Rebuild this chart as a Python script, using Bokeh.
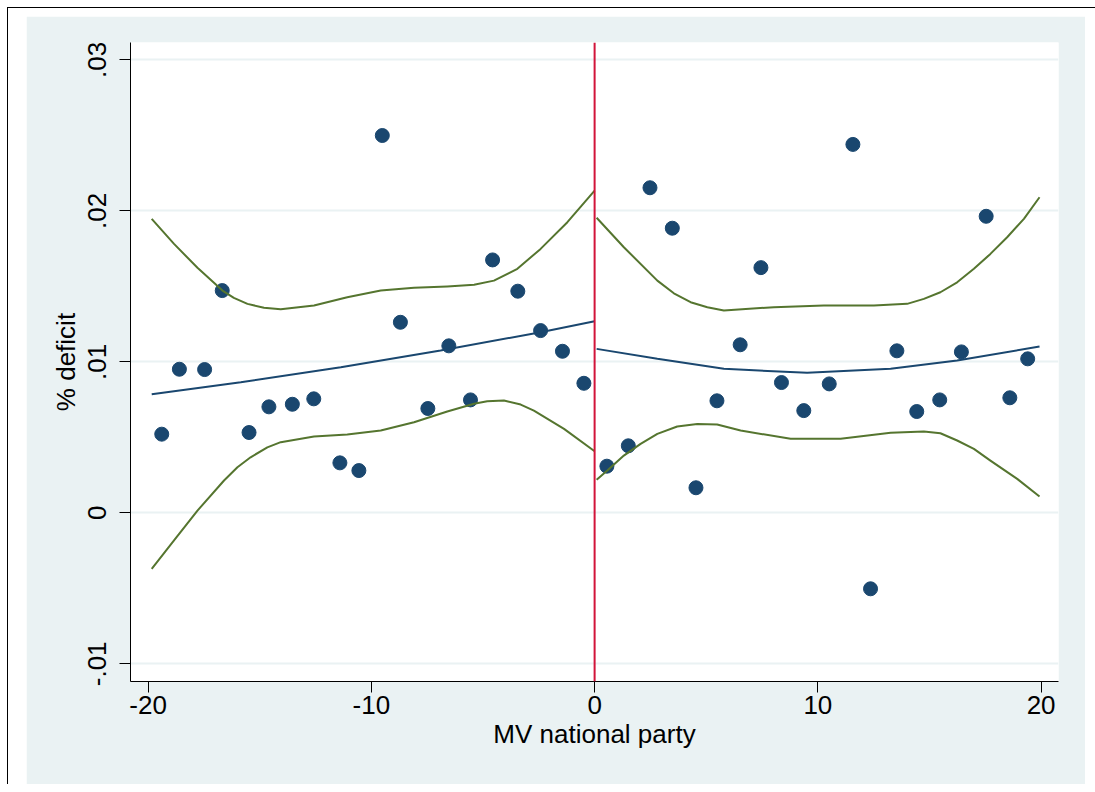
from bokeh.plotting import figure
from bokeh.models import Span
from bokeh.layouts import column
from bokeh.embed import file_html
from bokeh.resources import INLINE

# ---- binned scatter (left / right of cutoff) ----
left_x = [-19.39, -18.6, -17.47, -16.68, -15.48, -14.59, -13.54, -12.58, -11.41, -10.56,
          -9.51, -8.70, -7.47, -6.53, -5.56, -4.57, -3.44, -2.42, -1.44, -0.48]
left_y = [0.00521, 0.00951, 0.00949, 0.01472, 0.00532, 0.00702, 0.00719, 0.00755, 0.00331, 0.00280,
          0.02499, 0.01262, 0.00691, 0.01106, 0.00748, 0.01675, 0.01468, 0.01207, 0.01070, 0.00858]
right_x = [0.55, 1.51, 2.48, 3.48, 4.54, 5.48, 6.52, 7.45, 8.37, 9.37,
           10.51, 11.57, 12.36, 13.54, 14.43, 15.46, 16.43, 17.54, 18.6, 19.4]
right_y = [0.00309, 0.00444, 0.02153, 0.01885, 0.00166, 0.00742, 0.01113, 0.01624, 0.00863, 0.00677,
           0.00854, 0.02440, -0.00503, 0.01073, 0.00671, 0.00748, 0.01066, 0.01964, 0.00762, 0.01020]

# ---- fitted lines ----
fitL_x = [-19.84, -15.85, -11.37, -6.90, -2.42, 0.0]
fitL_y = [0.00785, 0.00865, 0.00964, 0.01075, 0.01196, 0.01269]
fitR_x = [0.09, 2.81, 5.79, 9.52, 13.26, 16.24, 19.93]
fitR_y = [0.01086, 0.01020, 0.00954, 0.00927, 0.00954, 0.01009, 0.01101]

# ---- confidence bands ----
ciLup_x = [-19.84, -18.84, -17.79, -16.67, -16.16, -15.55, -14.81, -14.06, -12.57, -11.08, -9.58, -8.09,
           -6.60, -5.40, -4.51, -3.46, -2.42, -1.22, 0.0]
ciLup_y = [0.01947, 0.01781, 0.01623, 0.01472, 0.01424, 0.01384, 0.01358, 0.01349, 0.01373, 0.01428,
           0.01472, 0.01490, 0.01499, 0.01510, 0.01538, 0.01616, 0.01748, 0.01925, 0.02134]
ciLlo_x = [-19.84, -18.84, -17.79, -16.60, -16.0, -15.41, -14.66, -14.06, -12.57, -11.08, -9.58, -8.09,
           -6.60, -5.40, -4.81, -4.06, -3.31, -2.72, -1.37, 0.0]
ciLlo_y = [-0.00371, -0.00183, 0.00015, 0.00214, 0.00302, 0.00368, 0.00434, 0.00468, 0.00505, 0.00519,
           0.00545, 0.00600, 0.00671, 0.00722, 0.00739, 0.00744, 0.00717, 0.00677, 0.00556, 0.00408]
ciRup_x = [0.09, 1.31, 2.81, 3.55, 4.30, 5.05, 5.79, 8.03, 10.27, 12.51, 14.00, 14.75, 15.49, 16.24,
           16.99, 17.73, 18.48, 19.23, 19.93]
ciRup_y = [0.01954, 0.01759, 0.01538, 0.01454, 0.01395, 0.01362, 0.01340, 0.01362, 0.01373, 0.01373,
           0.01384, 0.01417, 0.01461, 0.01527, 0.01616, 0.01715, 0.01825, 0.01947, 0.02090]
ciRlo_x = [0.09, 0.57, 1.31, 2.06, 2.81, 3.70, 4.60, 5.49, 6.54, 8.78, 11.02, 13.26, 14.75, 15.49,
           16.24, 16.99, 17.73, 18.93, 19.93]
ciRlo_y = [0.00219, 0.00280, 0.00379, 0.00457, 0.00523, 0.00572, 0.00589, 0.00585, 0.00545, 0.00490,
           0.00490, 0.00530, 0.00538, 0.00527, 0.00479, 0.00424, 0.00346, 0.00225, 0.00108]

x_ticks = [-20, -10, 0, 10, 20]
x_tick_labels = ["-20", "-10", "0", "10", "20"]
y_ticks = [-0.01, 0.0, 0.01, 0.02, 0.03]
y_tick_labels = ["-.01", "0", ".01", ".02", ".03"]

NAVY = "#1a476f"
GREEN = "#55752f"
RED = "#d2143a"
BG = "#eaf2f3"
FONT = "Liberation Sans"

p = figure(width=1059, height=768, output_backend="svg", toolbar_location=None,
           x_range=(-20.79, 20.78), y_range=(-0.01117, 0.03115),
           min_border_left=104, min_border_right=27, min_border_top=26, min_border_bottom=103,
           margin=(8, 0, 0, 18))
p.background_fill_color = "white"
p.border_fill_color = BG
p.outline_line_color = None

p.scatter(left_x, left_y, size=14, color=NAVY, line_color=NAVY)
p.scatter(right_x, right_y, size=14, color=NAVY, line_color=NAVY)

p.line(fitL_x, fitL_y, line_color=NAVY, line_width=2)
p.line(fitR_x, fitR_y, line_color=NAVY, line_width=2)
for xs, ys in [(ciLup_x, ciLup_y), (ciLlo_x, ciLlo_y), (ciRup_x, ciRup_y), (ciRlo_x, ciRlo_y)]:
    p.line(xs, ys, line_color=GREEN, line_width=2, line_join="round")

p.add_layout(Span(location=0, dimension="height", line_color=RED, line_width=2))

p.xaxis.ticker = x_ticks
p.xaxis.major_label_overrides = {v: s for v, s in zip(x_ticks, x_tick_labels)}
p.yaxis.ticker = y_ticks
p.yaxis.major_label_overrides = {v: s for v, s in zip(y_ticks, y_tick_labels)}
p.yaxis.major_label_orientation = "vertical"

for ax in (p.xaxis, p.yaxis):
    ax.axis_line_color = "black"
    ax.axis_line_width = 1
    ax.major_tick_line_color = "black"
    ax.major_tick_out = 11
    ax.major_tick_in = 0
    ax.minor_tick_line_color = None
    ax.major_label_text_font = FONT
    ax.major_label_text_font_size = "26px"
    ax.major_label_text_color = "black"
    ax.axis_label_text_font = FONT
    ax.axis_label_text_font_size = "26px"
    ax.axis_label_text_font_style = "normal"
    ax.axis_label_text_color = "black"

p.xaxis.axis_label = "MV national party"
p.yaxis.axis_label = "% deficit"
p.xaxis.major_label_standoff = 3
p.yaxis.major_label_standoff = 13
p.xaxis.axis_label_standoff = 2
p.yaxis.axis_label_standoff = 5

p.xgrid.grid_line_color = None
p.ygrid.grid_line_color = BG
p.ygrid.grid_line_width = 2

layout = column(p, margin=(7, 0, 0, 7), width=1088,
                styles={"border-top": "1px solid black", "border-left": "1px solid black"})

open("out.html", "w").write(file_html(layout, INLINE))
